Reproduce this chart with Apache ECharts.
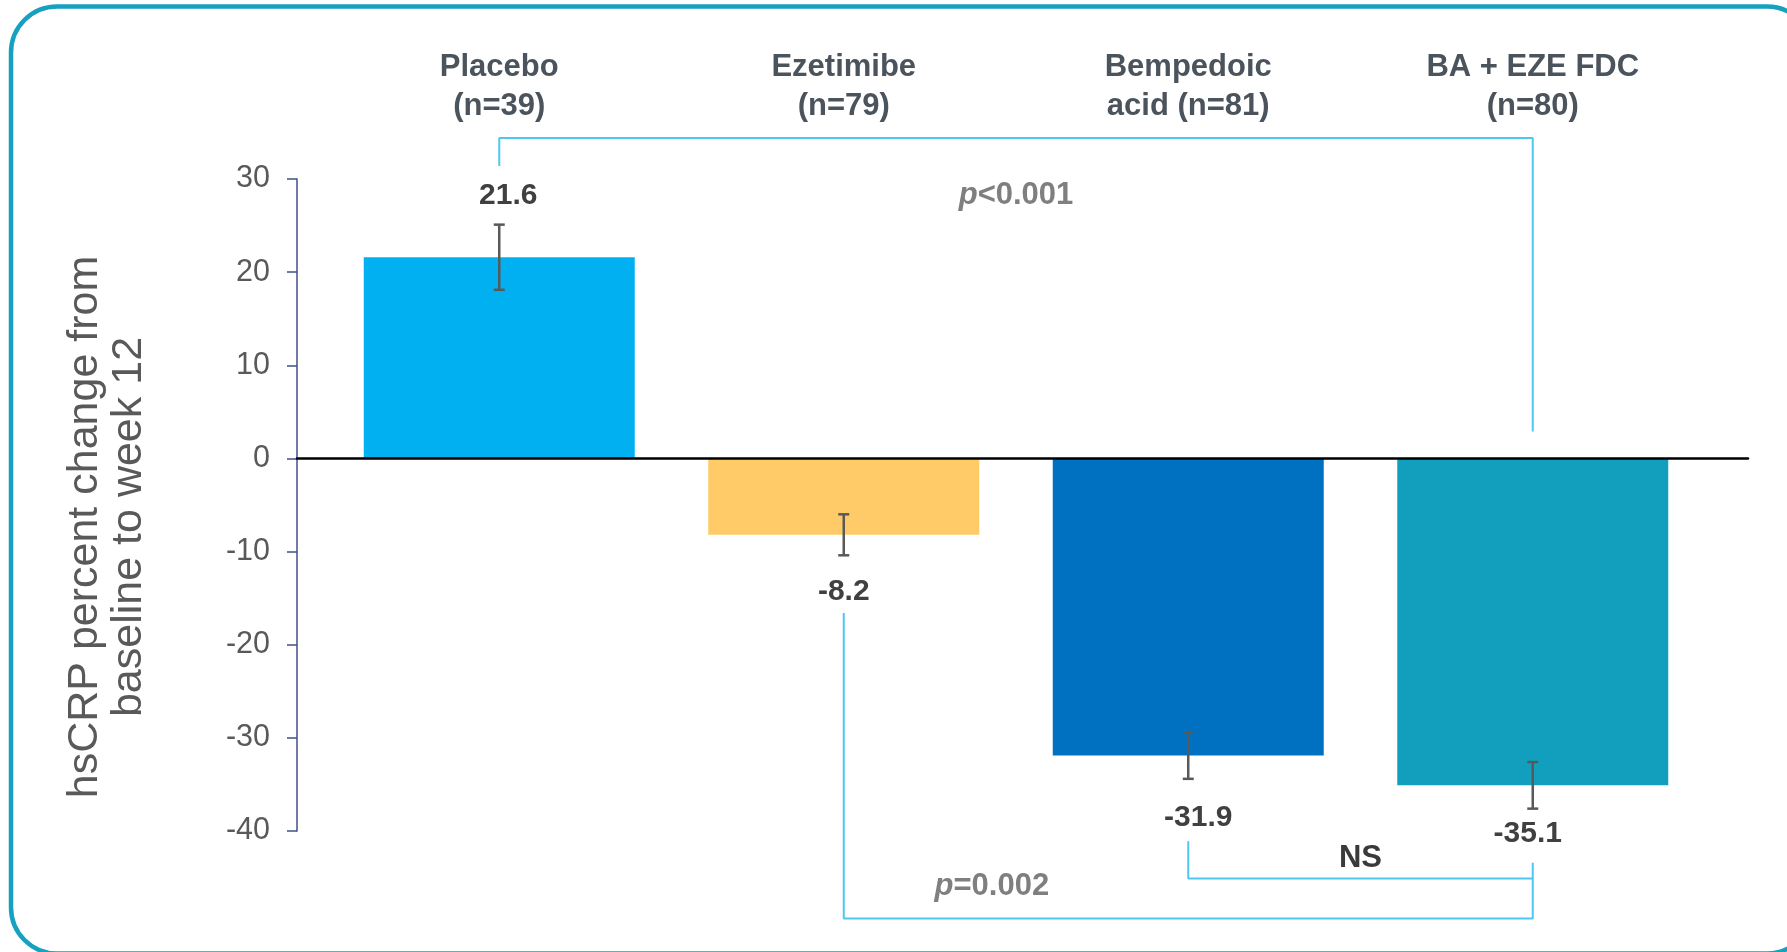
<!DOCTYPE html>
<html>
<head>
<meta charset="utf-8">
<script src="https://cdn.jsdelivr.net/npm/echarts@6/dist/echarts.min.js"></script>
<style>
  html, body { margin: 0; padding: 0; background: #ffffff; }
  #chart { width: 1787px; height: 952px; }
</style>
</head>
<body>
<div id="chart"></div>
<script>
// Treatment groups and hsCRP percent change from baseline to week 12
const groups = ['Placebo\n(n=39)', 'Ezetimibe\n(n=79)', 'Bempedoic\nacid (n=81)', 'BA + EZE FDC\n(n=80)'];
const changePct = [21.6, -8.2, -31.9, -35.1];
const stdErr = [3.5, 2.2, 2.5, 2.5];
const barColors = ['#00b0f0', '#ffcb69', '#0070c0', '#129fbe'];

// Value axis range and step
const yMin = -40;
const yMax = 30;
const yStep = 10;

// Comparison brackets (group index, axis value) and their notes
const bracketPaths = [
  [[0, 31.4], [0, 34.4], [3, 34.4], [3, 2.9]],
  [[1, -16.6], [1, -49.4], [3, -49.4], [3, -43.4]],
  [[2, -41.1], [2, -45.1], [3, -45.1]]
];
const noteTexts = ['{i|p}<0.001', '{i|p}=0.002', 'NS'];
const noteAnchors = [[1.5, 28.2], [1.43, -45.9], [2.5, -42.9]];
const noteColors = ['#7f7f7f', '#7f7f7f', '#3a3a3a'];

const FONT = '"Liberation Sans", Arial, Helvetica, sans-serif';

// Per-bar label placement (distance from bar end, horizontal nudge)
const labelDist = [47, 42, 47, 33];
const labelNudge = [9, 0, 10, -5];

const chart = echarts.init(document.getElementById('chart'), null, { renderer: 'canvas' });

const barData = changePct.map((v, i) => ({
  value: [i, v],
  itemStyle: { color: barColors[i] },
  label: {
    position: v >= 0 ? 'top' : 'bottom',
    distance: labelDist[i],
    offset: [labelNudge[i], 0]
  }
}));

const errData = changePct.map((v, i) => [i, v - stdErr[i], v + stdErr[i]]);

const option = {
  backgroundColor: '#ffffff',
  animation: false,
  grid: [
    // bars
    { left: 327, right: 82, top: 179, bottom: 121 },
    // visible value axis and zero baseline
    { left: 297, right: 39, top: 179, bottom: 121 }
  ],
  xAxis: [
    { type: 'value', gridIndex: 0, min: -0.5, max: 3.5, show: false },
    {
      type: 'category', gridIndex: 0, position: 'top', data: groups,
      axisLine: { show: false }, axisTick: { show: false },
      axisLabel: {
        interval: 0, margin: 53, color: '#4b545c',
        fontFamily: FONT, fontSize: 31, fontWeight: 'bold', lineHeight: 39, align: 'center'
      }
    },
    {
      type: 'value', gridIndex: 1, min: 0, max: 1, z: 5,
      axisLine: { show: true, onZero: true, lineStyle: { color: '#000000', width: 2.5 } },
      axisTick: { show: false }, axisLabel: { show: false }, splitLine: { show: false }
    }
  ],
  yAxis: [
    { type: 'value', gridIndex: 0, min: yMin, max: yMax, interval: yStep, show: false },
    {
      type: 'value', gridIndex: 1, min: yMin, max: yMax, interval: yStep,
      axisLine: { show: true, onZero: false, lineStyle: { color: '#3f4f8c', width: 1.5 } },
      axisTick: { show: true, length: 10, lineStyle: { color: '#3f4f8c', width: 1.5 } },
      splitLine: { show: false },
      axisLabel: { margin: 27, color: '#595959', fontFamily: FONT, fontSize: 30.5 }
    }
  ],
  graphic: [
    {
      type: 'rect', silent: true, z: 100,
      shape: { x: 11, y: 6.5, width: 1802, height: 947, r: 46 },
      style: { fill: 'none', stroke: '#16a1c1', lineWidth: 4.5 }
    },
    {
      type: 'text', silent: true,
      x: 107.5, y: 527, rotation: Math.PI / 2,
      style: {
        text: 'hsCRP percent change from\nbaseline to week 12',
        fill: '#595959', font: '43px ' + FONT, lineHeight: 44,
        align: 'center', verticalAlign: 'middle'
      }
    }
  ],
  series: [
    {
      type: 'bar', xAxisIndex: 0, yAxisIndex: 0, barWidth: 271, z: 2,
      data: barData,
      label: {
        show: true, color: '#404040', fontFamily: FONT, fontSize: 30, fontWeight: 'bold', lineHeight: 30,
        formatter: p => String(p.value[1])
      }
    },
    {
      type: 'custom', xAxisIndex: 0, yAxisIndex: 0, z: 4, clip: false,
      data: errData,
      renderItem: (params, api) => {
        const x = api.value(0);
        const lo = api.coord([x, api.value(1)]);
        const hi = api.coord([x, api.value(2)]);
        const cap = 5.5;
        const st = { stroke: '#595959', lineWidth: 2.5 };
        return {
          type: 'group',
          children: [
            { type: 'line', shape: { x1: lo[0], y1: lo[1], x2: hi[0], y2: hi[1] }, style: st },
            { type: 'line', shape: { x1: lo[0] - cap, y1: lo[1], x2: lo[0] + cap, y2: lo[1] }, style: st },
            { type: 'line', shape: { x1: hi[0] - cap, y1: hi[1], x2: hi[0] + cap, y2: hi[1] }, style: st }
          ]
        };
      }
    },
    ...bracketPaths.map(path => ({
      type: 'line', xAxisIndex: 0, yAxisIndex: 0, clip: false, z: 3,
      data: path, symbol: 'none', silent: true,
      lineStyle: { color: '#4cc8f2', width: 2 }
    })),
    {
      type: 'custom', xAxisIndex: 0, yAxisIndex: 0, z: 6, clip: false,
      data: noteAnchors,
      renderItem: (params, api) => {
        const pt = api.coord([api.value(0), api.value(1)]);
        const color = noteColors[params.dataIndex];
        return {
          type: 'text', x: pt[0], y: pt[1],
          style: {
            text: noteTexts[params.dataIndex],
            fill: color, font: 'bold 31px ' + FONT,
            align: 'center', verticalAlign: 'middle',
            rich: {
              i: { fill: color, fontFamily: FONT, fontSize: 31, fontWeight: 'bold', fontStyle: 'italic' }
            }
          }
        };
      }
    }
  ]
};

chart.setOption(option);
</script>
</body>
</html>
